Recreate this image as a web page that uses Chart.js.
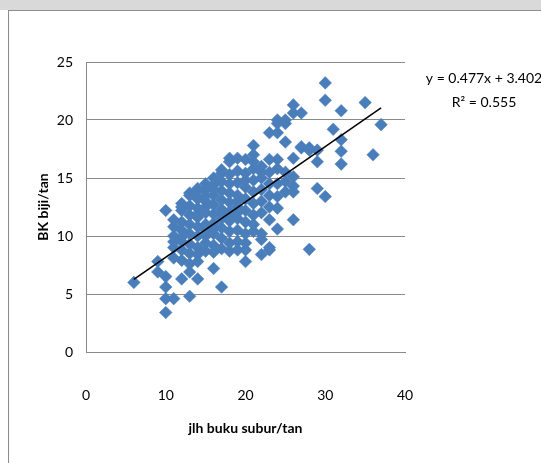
<!DOCTYPE html>
<html>
<head>
<meta charset="utf-8">
<script src="https://cdn.jsdelivr.net/npm/chart.js@4.4.1/dist/chart.umd.min.js"></script>
<style>
  html, body { margin: 0; padding: 0; background: #ffffff; }
  #page { position: relative; width: 541px; height: 463px; overflow: hidden; background: #ffffff; }
  #band { position: absolute; left: 0; top: 0; width: 541px; height: 10px; background: #d9d9d9; }
  #frame { position: absolute; left: 8px; top: 10px; width: 560px; height: 480px;
           border-left: 1px solid #8c8c8c; border-top: 1px solid #8c8c8c; box-sizing: border-box; }
  #wrap { position: absolute; left: 0; top: 0; width: 541px; height: 463px; }
</style>
</head>
<body>
<div id="page">
  <div id="band"></div>
  <div id="frame"></div>
  <div id="wrap"><canvas id="chart"></canvas></div>
</div>
<script>
// Fertile nodes per plant (x) against seed dry weight per plant (y)
const xTitle = 'jlh buku subur/tan';
const yTitle = 'BK biji/tan';
const xTicks = [0, 10, 20, 30, 40];
const yTicks = [0, 5, 10, 15, 20, 25];

// observations grouped by node count
const nodeCounts = [6, 9, 10, 11, 12, 13, 14, 15, 16, 17, 18, 19, 20, 21, 22, 23, 24, 25, 26, 27, 28, 29, 30, 31, 32, 35, 36, 37];
const seedWeights = [
  [6.0],
  [7.8, 6.9],
  [12.2, 6.5, 5.6, 4.6, 3.4],
  [4.6, 9.5, 8.1, 10.0, 9.0, 10.8, 11.4],
  [6.3, 7.9, 12.2, 12.5, 10.5, 9.5, 11.2, 8.8, 12.8, 9.9],
  [4.8, 6.9, 13.7, 13.5, 8.5, 9.3, 10.2, 11.0, 11.8, 12.6, 7.6],
  [6.3, 7.8, 14.1, 13.9, 9.0, 10.0, 10.8, 11.6, 12.4, 13.2, 8.4, 11.9],
  [10.0, 11.0, 12.0, 13.0, 14.0, 9.4, 8.7, 12.5, 10.5, 13.5, 14.5],
  [7.2, 15.0, 14.4, 9.2, 10.2, 11.1, 11.9, 12.7, 13.5, 8.6, 14.0, 10.6],
  [5.6, 15.7, 15.4, 8.9, 9.8, 10.7, 11.5, 12.3, 13.1, 13.9, 14.7, 12.0],
  [16.7, 16.4, 15.3, 9.4, 10.4, 11.3, 12.1, 12.9, 13.7, 14.5, 8.7, 11.7],
  [16.7, 15.6, 14.6, 13.5, 12.5, 11.5, 10.5, 9.5, 8.8, 12.0, 13.0],
  [16.6, 8.8, 7.8, 15.4, 14.2, 13.2, 12.2, 11.2, 10.2, 9.4, 14.8],
  [17.8, 17.0, 10.4, 15.8, 14.8, 13.8, 12.8, 11.8, 11.0, 16.4],
  [8.4, 9.7, 10.2, 16.0, 15.0, 14.0, 13.0, 12.0, 15.5],
  [18.9, 8.8, 9.0, 11.4, 16.6, 15.5, 14.5, 13.5, 12.5],
  [20.0, 18.9, 16.6, 15.8, 10.6, 19.7, 14.5, 13.4, 12.4],
  [20.0, 18.1, 14.7, 19.7, 15.5, 13.8],
  [21.3, 20.6, 16.7, 15.1, 14.3, 11.4, 13.8],
  [20.6, 17.6, 17.7],
  [17.6, 17.4, 8.85],
  [16.4, 17.4, 14.1],
  [23.2, 21.7, 13.4],
  [19.2],
  [20.8, 18.3, 17.3, 16.2],
  [21.5],
  [17.0],
  [19.6]
];

// linear fit shown on the chart
const trendSlope = 0.477;
const trendIntercept = 3.402;
const trendRange = [6, 37];
const trendLabel = 'y = 0.477x + 3.402';
const r2Label = 'R² = 0.555';

const points = [];
nodeCounts.forEach((n, i) => seedWeights[i].forEach(w => points.push({ x: n, y: w })));
const trendPoints = trendRange.map(x => ({ x: x, y: trendSlope * x + trendIntercept }));

const FONT = "Lato, 'Open Sans', sans-serif";

const equationText = {
  id: 'equationText',
  afterDraw(chart) {
    const ctx = chart.ctx;
    ctx.save();
    ctx.fillStyle = '#000000';
    ctx.font = "14px " + FONT;
    ctx.textAlign = 'center';
    ctx.textBaseline = 'middle';
    ctx.fillText(trendLabel, 484, 78);
    ctx.fillText(r2Label, 484, 102);
    ctx.restore();
  }
};

new Chart(document.getElementById('chart'), {
  type: 'scatter',
  data: {
    datasets: [
      {
        type: 'line',
        data: trendPoints,
        borderColor: '#000000',
        borderWidth: 1.5,
        pointRadius: 0,
        fill: false,
        order: 0
      },
      {
        data: points,
        pointStyle: 'rectRot',
        pointRadius: 6.3,
        backgroundColor: '#4a7ebb',
        borderColor: '#4a7ebb',
        borderWidth: 0.5,
        order: 1
      }
    ]
  },
  options: {
    responsive: true,
    maintainAspectRatio: false,
    animation: false,
    events: [],
    layout: { padding: { left: 20, right: 136, top: 62, bottom: 0 } },
    plugins: { legend: { display: false }, tooltip: { enabled: false } },
    scales: {
      x: {
        type: 'linear',
        min: xTicks[0], max: xTicks[xTicks.length - 1],
        afterBuildTicks(axis) { axis.ticks = xTicks.map(v => ({ value: v })); },
        afterFit(axis) { axis.height = 111; },
        grid: { display: false },
        border: { display: true, color: '#8a8a8a', width: 1 },
        ticks: { padding: 27, color: '#000000', font: { family: FONT, size: 14 } },
        title: { display: true, text: xTitle, color: '#000000', padding: { top: 0, bottom: 26 },
                 font: { family: FONT, size: 14, weight: 'bold' } }
      },
      y: {
        type: 'linear',
        min: yTicks[0], max: yTicks[yTicks.length - 1],
        afterBuildTicks(axis) { axis.ticks = yTicks.map(v => ({ value: v })); },
        afterFit(axis) { axis.width = 66; },
        grid: { display: true, color: '#8a8a8a', lineWidth: 1, drawTicks: false },
        border: { display: true, color: '#8a8a8a', width: 1 },
        ticks: { padding: 13, color: '#000000', font: { family: FONT, size: 14 } },
        title: { display: true, text: yTitle, color: '#000000', padding: { top: 15, bottom: 0 },
                 font: { family: FONT, size: 14, weight: 'bold' } }
      }
    }
  },
  plugins: [equationText]
});
</script>
</body>
</html>
